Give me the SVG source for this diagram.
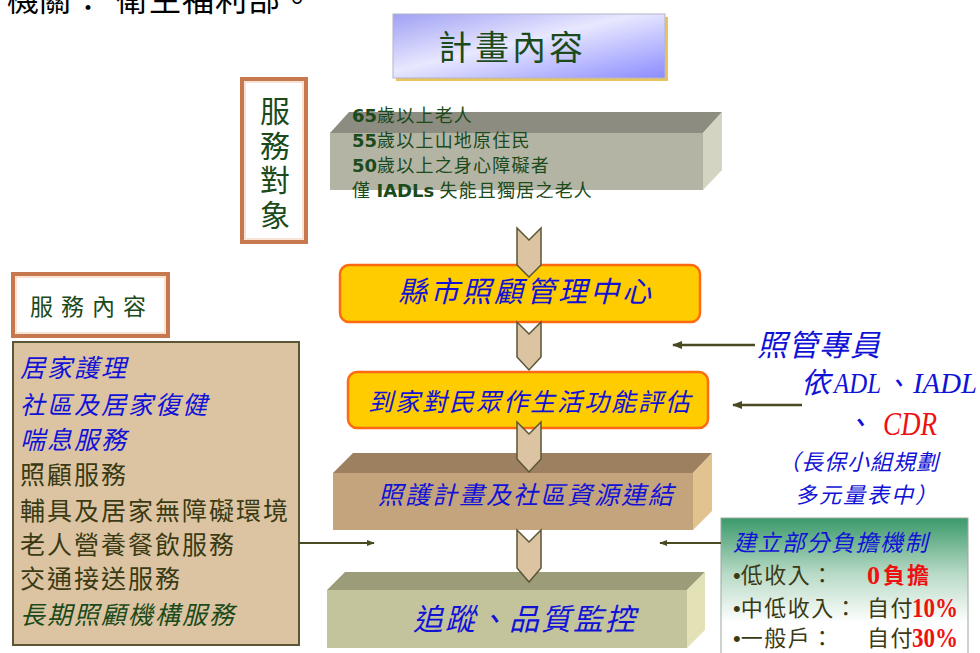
<svg xmlns="http://www.w3.org/2000/svg" width="980" height="653" viewBox="0 0 980 653">
<defs>
<style>
.cjk{font-family:'Noto Sans CJK TC','Noto Sans CJK SC',sans-serif}
.lat{font-family:'DejaVu Sans','Noto Sans CJK TC',sans-serif;font-weight:bold}
.ser{font-family:'Liberation Serif','Noto Sans CJK TC',serif}
.bul{font-family:'Liberation Sans',sans-serif}
.blue{fill:#1212d6;font-style:italic}
.green{fill:#1b4a1b}
.olive{fill:#3a3a14}
.red{fill:#ee1111}
.arrow{stroke:#4a4a22;stroke-width:2.5;fill:none;marker-end:url(#ah)}
.chev{fill:#dcc4a2;stroke:#5a5636;stroke-width:1.5}
.dbl{fill:#fff;stroke:#c8784e;stroke-width:4}
.dbl2{fill:none;stroke:#f2c8ac;stroke-width:1}
.orange{fill:#ffcc00;stroke:#ff6a10;stroke-width:2.5}
</style>
<marker id="ah" viewBox="0 0 10 10" refX="9" refY="5" markerWidth="4" markerHeight="4" orient="auto"><path d="M0,1 L10,5 L0,9 Z" fill="#4a4a22"/></marker>
<linearGradient id="gTitle" x1="0" y1="0" x2="1" y2="1">
<stop offset="0" stop-color="#a0a0f4"/><stop offset="0.45" stop-color="#e8e8ff"/><stop offset="1" stop-color="#8c8cff"/>
</linearGradient>
<linearGradient id="gGreen" x1="0" y1="0" x2="0" y2="1">
<stop offset="0" stop-color="#3a996a"/><stop offset="0.4" stop-color="#b8dac6"/><stop offset="0.75" stop-color="#ffffff"/>
</linearGradient>
</defs>

<text class="cjk" x="7" y="11" font-size="32" fill="#000">機關</text>
<text class="cjk" x="72" y="11" font-size="32" fill="#000">：</text>
<text class="cjk" x="116" y="11" font-size="32" fill="#000" style="letter-spacing:1px">衛生福利部。</text>

<g id="title">
<rect x="396" y="17" width="272" height="64" fill="#e6c65c"/>
<rect x="393" y="14" width="272" height="64" fill="url(#gTitle)" stroke="#b4b4c8" stroke-width="1"/>
<text class="cjk green" x="438" y="60" font-size="34" style="letter-spacing:3px">計畫內容</text>
</g>

<g id="target-label">
<rect class="dbl" x="242" y="79" width="64" height="163"/>
<rect class="dbl2" x="245" y="82" width="58" height="157"/>
<text class="cjk green" font-size="30" text-anchor="middle"><tspan x="275" y="122">服</tspan><tspan x="275" y="157">務</tspan><tspan x="275" y="191">對</tspan><tspan x="275" y="226">象</tspan></text>
</g>

<g id="target-bar">
<path d="M330,133 L349,112 L722,112 L703,133 Z" fill="#8c8c80"/>
<path d="M703,133 L722,112 L722,170 L703,190 Z" fill="#d4d4c2"/>
<rect x="330" y="133" width="373" height="57" fill="#b4b4a4"/>
<g class="cjk green" font-size="18" style="letter-spacing:1.2px">
<text x="352" y="122"><tspan class="lat" style="letter-spacing:0">65</tspan>歲以上老人</text>
<text x="352" y="147"><tspan class="lat" style="letter-spacing:0">55</tspan>歲以上山地原住民</text>
<text x="352" y="172"><tspan class="lat" style="letter-spacing:0">50</tspan>歲以上之身心障礙者</text>
<text x="352" y="197">僅 <tspan class="lat" style="letter-spacing:0">IADLs</tspan> 失能且獨居之老人</text>
</g>
</g>

<g id="center">
<rect class="orange" x="340" y="265" width="360" height="57" rx="9"/>
<text class="cjk blue" x="398" y="302" font-size="29" style="letter-spacing:3px">縣市照顧管理中心</text>
</g>

<g id="assessment">
<rect class="orange" x="348" y="372" width="360" height="56" rx="9"/>
<text class="cjk blue" x="368" y="411" font-size="25" style="letter-spacing:2px">到家對民眾作生活功能評估</text>
</g>

<g id="plan">
<path d="M333,473 L353,453 L712,453 L693,473 Z" fill="#9c8060"/>
<path d="M693,473 L712,453 L712,511 L693,530 Z" fill="#e2c28e"/>
<rect x="333" y="473" width="360" height="57" fill="#c4a47c"/>
<text class="cjk blue" x="378" y="504" font-size="25" style="letter-spacing:2px">照護計畫及社區資源連結</text>
</g>

<g id="monitor">
<path d="M327,590 L345,572 L705,572 L687,590 Z" fill="#9c9c78"/>
<path d="M687,590 L705,572 L705,630 L687,648 Z" fill="#e2e2b6"/>
<rect x="327" y="590" width="360" height="58" fill="#c4c49c"/>
<text class="cjk blue" x="413" y="630" font-size="30" style="letter-spacing:2px">追蹤、品質監控</text>
</g>

<g id="content-label">
<rect class="dbl" x="13" y="274" width="155" height="62"/>
<rect class="dbl2" x="16" y="277" width="149" height="56"/>
<text class="cjk green" x="30" y="315" font-size="23" style="letter-spacing:8px">服務內容</text>
</g>

<g id="content-list">
<rect x="13" y="342" width="286" height="303" fill="#dcc4a2" stroke="#5a5636" stroke-width="2"/>
<g class="cjk" font-size="25" style="letter-spacing:2px">
<text class="blue" x="20" y="377">居家護理</text>
<text class="blue" x="20" y="414">社區及居家復健</text>
<text class="blue" x="20" y="449">喘息服務</text>
<text class="olive" x="20" y="484">照顧服務</text>
<text class="olive" x="20" y="520">輔具及居家無障礙環境</text>
<text class="olive" x="20" y="554">老人營養餐飲服務</text>
<text class="olive" x="20" y="588">交通接送服務</text>
<text class="green" x="20" y="624" font-style="italic">長期照顧機構服務</text>
</g>
</g>

<g id="case-manager">
<text class="cjk blue" x="757" y="356" font-size="30" style="letter-spacing:1px">照管專員</text>
<text class="cjk blue" x="801" y="393" font-size="29">依</text>
<text class="ser blue" x="834" y="393" font-size="30" textLength="47" lengthAdjust="spacingAndGlyphs">ADL</text>
<text class="cjk blue" x="883" y="393" font-size="27">、</text>
<text class="ser blue" x="913" y="393" font-size="30" textLength="64" lengthAdjust="spacingAndGlyphs">IADL</text>
<text class="cjk blue" x="844" y="433" font-size="28">、</text>
<text class="ser red" x="883" y="435" font-size="34" font-style="italic" textLength="54" lengthAdjust="spacingAndGlyphs">CDR</text>
<text class="cjk blue" x="778" y="470" font-size="22" style="letter-spacing:1px">（長保小組規劃</text>
<text class="cjk blue" x="795" y="503" font-size="22" style="letter-spacing:2px">多元量表中）</text>
</g>

<g id="copay">
<rect x="721" y="518" width="247" height="140" fill="url(#gGreen)" stroke="#9aa8a0" stroke-width="1"/>
<text class="cjk blue" x="733" y="551" font-size="23" style="letter-spacing:1.5px">建立部分負擔機制</text>
<g class="cjk olive" font-size="22" style="letter-spacing:1.5px">
<text x="733" y="583"><tspan class="bul" style="letter-spacing:0">•</tspan>低收入：</text>
<text x="733" y="616"><tspan class="bul" style="letter-spacing:0">•</tspan>中低收入：</text>
<text x="867" y="616">自付</text>
<text x="733" y="646"><tspan class="bul" style="letter-spacing:0">•</tspan>一般戶：</text>
<text x="867" y="646">自付</text>
</g>
<text class="ser red" x="867" y="584" font-size="26" font-weight="bold">0</text>
<text class="cjk red" x="883" y="583" font-size="22" font-weight="bold" style="letter-spacing:2px">負擔</text>
<text class="ser red" x="912" y="617" font-size="27" font-weight="bold" textLength="46" lengthAdjust="spacingAndGlyphs">10%</text>
<text class="ser red" x="912" y="647" font-size="27" font-weight="bold" textLength="46" lengthAdjust="spacingAndGlyphs">30%</text>
</g>

<g id="connectors">
<path class="chev" d="M517,228 L529,240 L541,228 L541,265 L529,277 L517,265 Z"/>
<path class="chev" d="M517,322 L529,334 L541,322 L541,357 L529,370 L517,357 Z"/>
<path class="chev" d="M517,422 L529,434 L541,422 L541,459 L529,472 L517,459 Z"/>
<path class="chev" d="M517,530 L529,542 L541,530 L541,568 L529,582 L517,568 Z"/>
<line class="arrow" x1="755" y1="345" x2="673" y2="345"/>
<line class="arrow" x1="802" y1="405" x2="733" y2="405"/>
<line class="arrow" x1="299" y1="543" x2="374" y2="543" style="stroke-width:2"/>
<line class="arrow" x1="721" y1="543" x2="660" y2="543" style="stroke-width:2"/>
</g>
</svg>
